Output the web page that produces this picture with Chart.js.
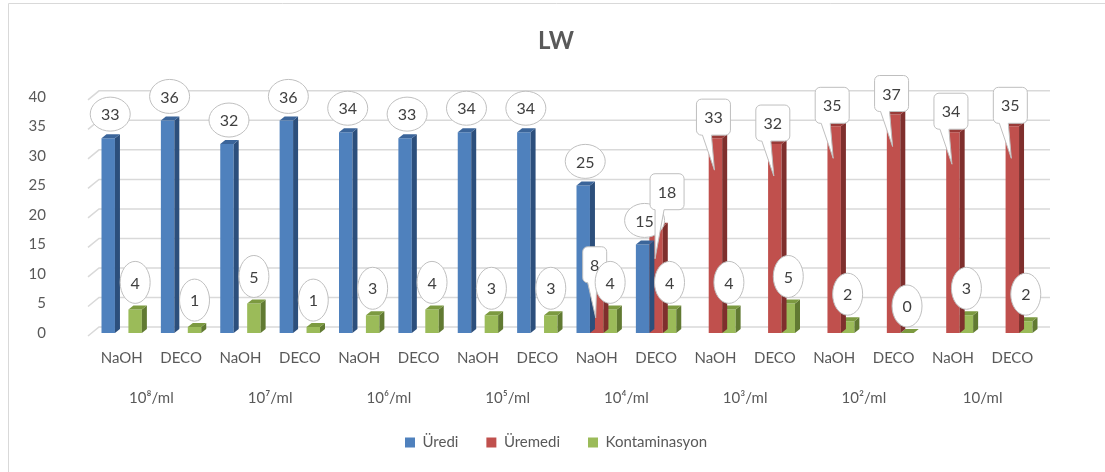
<!DOCTYPE html>
<html>
<head>
<meta charset="utf-8">
<script src="https://cdn.jsdelivr.net/npm/chart.js@4"></script>
<style>
  html, body { margin: 0; padding: 0; background: #fff; }
  #wrap { width: 1105px; height: 472px; position: relative; }
</style>
</head>
<body>
<div id="wrap"><canvas id="chart1"></canvas></div>
<script>
const categories = ['NaOH','DECO','NaOH','DECO','NaOH','DECO','NaOH','DECO',
                    'NaOH','DECO','NaOH','DECO','NaOH','DECO','NaOH','DECO'];
const groups = ['10⁸/ml','10⁷/ml','10⁶/ml','10⁵/ml','10⁴/ml','10³/ml','10²/ml','10/ml'];
const uredi = [33,36,32,36,34,33,34,34,25,15,0,0,0,0,0,0];
const uremedi = [0,0,0,0,0,0,0,0,8,18,33,32,35,37,34,35];
const kontaminasyon = [4,1,5,1,3,4,3,3,4,4,4,5,2,0,3,2];

const FONT = 'Lato, "Open Sans", sans-serif';
const TXT = '#595959';

// back wall grid with the little 3D kink on the left
const gridPlugin = {
  id: 'grid3d',
  beforeDatasetsDraw(chart) {
    const ctx = chart.ctx, y = chart.scales.y, a = chart.chartArea;
    ctx.save();
    ctx.strokeStyle = '#d9d9d9';
    ctx.lineWidth = 1.5;
    y.ticks.forEach(t => {
      const py = y.getPixelForValue(t.value);
      ctx.beginPath();
      ctx.moveTo(a.left - 4, py + 3);
      ctx.lineTo(a.left + 7, py - 6);
      ctx.lineTo(a.right + 8, py - 6);
      ctx.stroke();
    });
    ctx.restore();
  }
};

// side and top faces of the bars
const shade = { '#4f81bd': ['#2c4f7c', '#3b659a'], '#c0504d': ['#7f2f2d', '#9a3b38'], '#9bbb59': ['#617a32', '#7c9a40'] };
const facesPlugin = {
  id: 'faces',
  afterDatasetDraw(chart, args) {
    const ctx = chart.ctx;
    const ds = chart.data.datasets[args.index];
    const dx = 5, dy = -4;
    const c = shade[ds.backgroundColor];
    args.meta.data.forEach((bar, i) => {
      const v = ds.data[i];
      if (v === 0 && args.index < 2) return;
      const w = bar.width, l = bar.x - w / 2, r = bar.x + w / 2;
      const top = bar.y, base = bar.base;
      ctx.save();
      ctx.fillStyle = c[0];
      ctx.beginPath();
      ctx.moveTo(r, top); ctx.lineTo(r + dx, top + dy);
      ctx.lineTo(r + dx, base + dy); ctx.lineTo(r, base);
      ctx.closePath(); ctx.fill();
      ctx.fillStyle = c[1];
      ctx.beginPath();
      ctx.moveTo(l, top); ctx.lineTo(l + dx, top + dy);
      ctx.lineTo(r + dx, top + dy); ctx.lineTo(r, top);
      ctx.closePath(); ctx.fill();
      ctx.restore();
    });
  }
};

// callout data labels
function roundRectCallout(ctx, cx, cy, w, h, rad, tipX, tipY) {
  const l = cx - w / 2, r = cx + w / 2, t = cy - h / 2, b = cy + h / 2;
  const p1 = Math.max(l + rad, Math.min(tipX, cx) - 11), p2 = p1 + 9;
  ctx.beginPath();
  ctx.moveTo(l + rad, t);
  ctx.arcTo(r, t, r, b, rad);
  ctx.arcTo(r, b, l, b, rad);
  ctx.lineTo(p2, b);
  ctx.lineTo(tipX, tipY);
  ctx.lineTo(p1, b);
  ctx.arcTo(l, b, l, t, rad);
  ctx.arcTo(l, t, r, t, rad);
  ctx.closePath();
}
const calloutPlugin = {
  id: 'callouts',
  afterDatasetsDraw(chart) {
    const ctx = chart.ctx;
    const blueMeta = chart.getDatasetMeta(0);
    chart.data.datasets.forEach((ds, di) => {
      const meta = chart.getDatasetMeta(di);
      meta.data.forEach((bar, i) => {
        const v = ds.data[i];
        if (v === 0 && ds.callout !== 'tall') return;
        const x = bar.x, top = bar.y;
        const label = String(v);
        ctx.save();
        ctx.fillStyle = '#fff';
        ctx.strokeStyle = '#bfbfbf';
        ctx.lineWidth = 1;
        let tx, ty;
        if (ds.callout === 'wide') {
          tx = x + 2; ty = top - 24;
          ctx.beginPath();
          ctx.ellipse(tx, ty, 20, 17, 0, 0, Math.PI * 2);
        } else if (ds.callout === 'tall') {
          tx = x; ty = top - 27;
          ctx.beginPath();
          ctx.ellipse(tx, ty, 15, 21, 0, 0, Math.PI * 2);
        } else {
          // move aside when the blue label sits at about the same height
          const b = blueMeta.data[i];
          const clash = uredi[i] > 0 && Math.abs(b.y - top) < 40;
          tx = clash ? x + 11 : x - 2;
          ty = clash ? top - 35 : top - 21;
          const w = label.length > 1 ? 34 : 24;
          roundRectCallout(ctx, tx, ty, w, 36, 5, x - 1, top + 32);
        }
        ctx.fill();
        ctx.stroke();
        ctx.fillStyle = '#404040';
        ctx.font = '16px ' + FONT;
        ctx.textAlign = 'center';
        ctx.textBaseline = 'middle';
        ctx.fillText(label, tx, ty + 1);
        ctx.restore();
      });
    });
  }
};

const framePlugin = {
  id: 'frame',
  afterDraw(chart) {
    const ctx = chart.ctx;
    ctx.save();
    ctx.strokeStyle = '#d9d9d9';
    ctx.lineWidth = 1;
    ctx.beginPath();
    ctx.moveTo(8.5, 472); ctx.lineTo(8.5, 3.5); ctx.lineTo(1105, 3.5);
    ctx.stroke();
    ctx.restore();
  }
};

const data = {
  labels: categories,
  datasets: [
    { label: 'Üredi', data: uredi, backgroundColor: '#4f81bd', callout: 'wide' },
    { label: 'Üremedi', data: uremedi, backgroundColor: '#c0504d', callout: 'rect' },
    { label: 'Kontaminasyon', data: kontaminasyon, backgroundColor: '#9bbb59', callout: 'tall' }
  ]
};

const config = {
  type: 'bar',
  data: data,
  options: {
    responsive: true,
    maintainAspectRatio: false,
    animation: false,
    datasets: { bar: { barPercentage: 1, categoryPercentage: 0.68 } },
    layout: { padding: { left: 10, right: 3, top: 0, bottom: 12 } },
    plugins: {
      title: {
        display: true, text: 'LW', color: TXT,
        font: { family: FONT, size: 24, weight: 'bold' },
        padding: { top: 27, bottom: 41 }
      },
      legend: {
        position: 'bottom',
        labels: {
          color: TXT, font: { family: FONT, size: 15 },
          boxWidth: 10, boxHeight: 10, padding: 28
        }
      },
      tooltip: { enabled: false }
    },
    scales: {
      y: {
        min: 0, max: 40,
        ticks: { stepSize: 5, color: TXT, font: { family: FONT, size: 15 }, padding: 46 },
        grid: { display: false, drawTicks: false },
        border: { display: false },
        afterFit(s) { s.width = 82; }
      },
      // empty right-hand spacer so the plot ends where the reference does
      ySpace: {
        position: 'right',
        ticks: { display: false },
        grid: { display: false, drawTicks: false },
        border: { display: false },
        afterFit(s) { s.width = 60; }
      },
      x: {
        ticks: { color: TXT, font: { family: FONT, size: 15 }, padding: 16, maxRotation: 0, autoSkip: false },
        grid: { display: false, drawTicks: false },
        border: { display: false },
        afterFit(s) { s.height = 40; }
      },
      x2: {
        type: 'category',
        labels: groups,
        position: 'bottom',
        offset: true,
        ticks: { color: TXT, font: { family: FONT, size: 15 }, padding: 16, maxRotation: 0, autoSkip: false },
        grid: { display: false, drawTicks: false },
        border: { display: false },
        afterFit(s) { s.height = 34; }
      }
    }
  },
  plugins: [gridPlugin, facesPlugin, calloutPlugin, framePlugin]
};

const myChart = new Chart(document.getElementById('chart1'), config);
</script>
</body>
</html>
